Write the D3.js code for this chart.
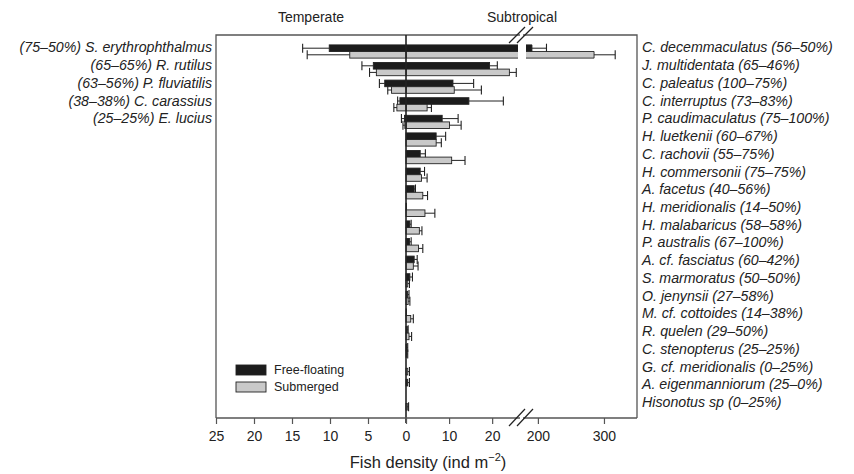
<!DOCTYPE html>
<html><head><meta charset="utf-8">
<script src="https://cdn.jsdelivr.net/npm/d3@7"></script>
<style>
body{margin:0;background:#fff;}
text{font-family:"Liberation Sans",Arial,Helvetica,sans-serif;fill:#222;}
</style></head>
<body><svg id="c" width="854" height="474"></svg>
<script>
// ---- data ----
const subtropicalLabels = ["C. decemmaculatus (56–50%)","J. multidentata (65–46%)","C. paleatus (100–75%)","C. interruptus (73–83%)","P. caudimaculatus (75–100%)","H. luetkenii (60–67%)","C. rachovii (55–75%)","H. commersonii (75–75%)","A. facetus (40–56%)","H. meridionalis (14–50%)","H. malabaricus (58–58%)","P. australis (67–100%)","A. cf. fasciatus (60–42%)","S. marmoratus (50–50%)","O. jenynsii (27–58%)","M. cf. cottoides (14–38%)","R. quelen (29–50%)","C. stenopterus (25–25%)","G. cf. meridionalis (0–25%)","A. eigenmanniorum (25–0%)","Hisonotus sp (0–25%)"];
const subFree    = [191,19.4,10.9,14.6,8.4,7.0,3.3,3.3,1.9,0.1,0.9,0.8,1.9,0.9,0.4,0.1,0.3,0.2,0,0.4,0];
const subFreeSE  = [22,1.8,4.8,8.0,3.7,2.2,1.2,1.0,0.3,0,0.3,0.4,0.7,0.6,0.3,0.1,0.2,0.2,0,0.4,0];
const subSubm    = [285,24.0,11.2,4.9,10.1,7.0,10.6,3.6,3.9,4.4,3.1,2.9,1.7,0.4,0.5,1.1,0.7,0.2,0.4,0,0.3];
const subSubmSE  = [32,1.6,6.3,1.0,2.7,1.2,3.1,1.3,1.1,2.3,0.6,1.0,1.1,0.4,0.4,0.6,0.6,0.2,0.4,0,0.3];
const temperateLabels = ["(75–50%) S. erythrophthalmus","(65–65%) R. rutilus","(63–56%) P. fluviatilis","(38–38%) C. carassius","(25–25%) E. lucius"];
const temFree   = [10.1,4.3,2.8,0.8,0.2];
const temFreeSE = [3.5,1.5,0.7,0.3,0.4];
const temSubm   = [7.4,3.9,1.9,1.2,0.15];
const temSubmSE = [5.6,0.9,0.5,0.4,0.25];
const leftTicks = [25,20,15,10,5];
const lowTicks = [0,10,20];
const highTicks = [200,300];
const seriesNames = ["Free-floating","Submerged"];
const colors = {free:"#1c1c1c", subm:"#c9c9c9"};

// ---- layout ----
const svg = d3.select("#c");
const L=216, R=637, T=35, B=418, X0=406;
const xLeft = d3.scaleLinear().domain([0,25]).range([X0,L]);
const xLow  = d3.scaleLinear().domain([0,26]).range([X0,518]);
const xHigh = d3.scaleLinear().domain([182,350]).range([526,R]);
const y = d3.scaleBand().domain(d3.range(subtropicalLabels.length)).range([42.7,412.3]).paddingInner(0.25).paddingOuter(0.125);
const yLab = d3.scalePoint().domain(d3.range(subtropicalLabels.length)).range([47.5,402]);
const bh = y.bandwidth()/2;
const xR = v => v<=26 ? xLow(v) : xHigh(v);

const g = svg.append("g");

function bar(x1,x2,yy,fill){
  g.append("rect").attr("x",Math.min(x1,x2)).attr("y",yy).attr("width",Math.abs(x2-x1)).attr("height",bh)
   .attr("fill",fill).attr("stroke","#222").attr("stroke-width",0.9);
}
function err(xa,xb,yy){
  if(Math.abs(xb-xa)<0.5) return;
  const cy=yy+bh/2;
  g.append("line").attr("x1",xa).attr("x2",xb).attr("y1",cy).attr("y2",cy).attr("stroke","#222").attr("stroke-width",1);
  g.append("line").attr("x1",xb).attr("x2",xb).attr("y1",cy-4.5).attr("y2",cy+4.5).attr("stroke","#222").attr("stroke-width",1.1);
}
function rightBar(v,se,yy,fill){
  if(v<=26){ if(v>0) bar(X0,xLow(v),yy,fill); err(xLow(v),xR(v+se),yy); }
  else {
    g.append("rect").attr("x",X0).attr("y",yy).attr("width",518-X0).attr("height",bh).attr("fill",fill).attr("stroke","none");
    g.append("path").attr("d",`M518,${yy}H${X0}V${yy+bh}H518`).attr("fill","none").attr("stroke","#222").attr("stroke-width",0.9);
    g.append("rect").attr("x",526).attr("y",yy).attr("width",xHigh(v)-526).attr("height",bh).attr("fill",fill).attr("stroke","none");
    g.append("path").attr("d",`M526,${yy}H${xHigh(v)}V${yy+bh}H526`).attr("fill","none").attr("stroke","#222").attr("stroke-width",0.9);
    err(xHigh(v),xHigh(v+se),yy);
  }
}
subtropicalLabels.forEach((s,i)=>{
  const y0=y(i);
  rightBar(subFree[i],subFreeSE[i],y0,colors.free);
  rightBar(subSubm[i],subSubmSE[i],y0+bh,colors.subm);
});
temperateLabels.forEach((s,i)=>{
  const y0=y(i);
  bar(X0,xLeft(temFree[i]),y0,colors.free); err(xLeft(temFree[i]),xLeft(temFree[i]+temFreeSE[i]),y0);
  bar(X0,xLeft(temSubm[i]),y0+bh,colors.subm); err(xLeft(temSubm[i]),xLeft(temSubm[i]+temSubmSE[i]),y0+bh);
});

// frame
const frame = "#555";
svg.append("path").attr("d",`M${L},${B}V${T}H${R}V${B}`).attr("fill","none").attr("stroke",frame).attr("stroke-width",1.3);
svg.append("line").attr("x1",X0).attr("x2",X0).attr("y1",T).attr("y2",B+5).attr("stroke","#222").attr("stroke-width",1.6);

// axes
function mkAxis(scale,ticks){
  const a = svg.append("g").attr("transform",`translate(0,${B})`)
    .call(d3.axisBottom(scale).tickValues(ticks).tickSize(6).tickPadding(7).tickSizeOuter(0));
  a.select(".domain").remove();
  a.selectAll(".tick line").attr("stroke",frame).attr("stroke-width",1.2);
  a.selectAll(".tick text").style("font-size","14px").attr("fill","#222")
    .style("font-family","'Liberation Sans',Arial,sans-serif");
  return a;
}
mkAxis(xLeft,leftTicks);
mkAxis(xLow,lowTicks);
mkAxis(xHigh,highTicks);
svg.append("line").attr("x1",L).attr("x2",R).attr("y1",B).attr("y2",B).attr("stroke",frame).attr("stroke-width",1.3);

// break marks
[[B,426,409],[T,43,27]].forEach(([yy,y1,y2])=>{
  [0,8].forEach(o=>{
    svg.append("line").attr("x1",509+o).attr("y1",y1).attr("x2",525+o).attr("y2",y2).attr("stroke","#222").attr("stroke-width",1.2);
  });
});
svg.append("line").attr("x1",520).attr("x2",523).attr("y1",B).attr("y2",B).attr("stroke","#fff").attr("stroke-width",2);
svg.append("line").attr("x1",520).attr("x2",523).attr("y1",T).attr("y2",T).attr("stroke","#fff").attr("stroke-width",2);

// axis title
const tt = svg.append("text").attr("x",428).attr("y",468).attr("text-anchor","middle").style("font-size","16.5px");
tt.append("tspan").text("Fish density (ind m");
tt.append("tspan").text("−2").attr("dy",-7).style("font-size","11px");
tt.append("tspan").text(")").attr("dy",7);

// region headers
svg.append("text").attr("x",311).attr("y",22).attr("text-anchor","middle").style("font-size","14px").text("Temperate");
svg.append("text").attr("x",522).attr("y",22).attr("text-anchor","middle").style("font-size","14px").text("Subtropical");

// species labels
svg.append("g").selectAll("text").data(subtropicalLabels).join("text")
  .attr("x",642).attr("y",(d,i)=>yLab(i)).attr("dy","0.35em")
  .style("font-size","14.2px").style("font-style","italic").text(d=>d);
svg.append("g").selectAll("text").data(temperateLabels).join("text")
  .attr("x",212).attr("y",(d,i)=>yLab(i)).attr("dy","0.35em").attr("text-anchor","end")
  .style("font-size","14.2px").style("font-style","italic").text(d=>d);

// legend
const lg = svg.append("g");
seriesNames.forEach((n,i)=>{
  lg.append("rect").attr("x",236).attr("y",365+i*17).attr("width",30).attr("height",10)
    .attr("fill",i?colors.subm:colors.free).attr("stroke","#222").attr("stroke-width",0.9);
  lg.append("text").attr("x",274).attr("y",370+i*17).attr("dy","0.35em").style("font-size","12.5px").text(n);
});
</script></body></html>
